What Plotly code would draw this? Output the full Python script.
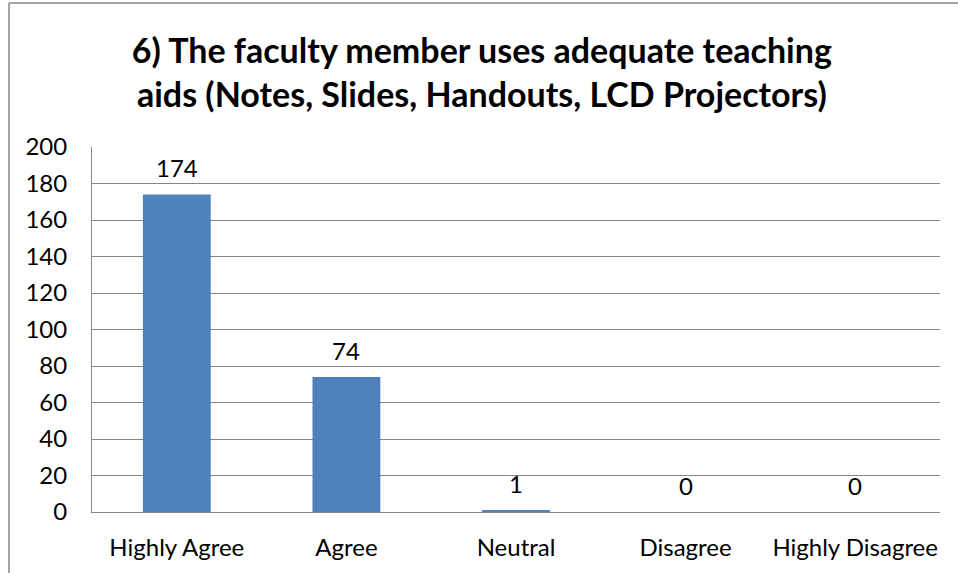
import plotly.graph_objects as go

categories = ["Highly Agree", "Agree", "Neutral", "Disagree", "Highly Disagree"]
values = [174, 74, 1, 0, 0]
y_ticks = [0, 20, 40, 60, 80, 100, 120, 140, 160, 180, 200]
title_text = "6) The faculty member uses adequate teaching<br>aids (Notes, Slides, Handouts, LCD Projectors)"

FONT = "Lato, Carlito, Calibri, sans-serif"

fig = go.Figure(
    go.Bar(
        x=categories,
        y=values,
        marker=dict(color="#4F81BD", line=dict(color="#4F81BD", width=0)),
        width=0.4,
        hoverinfo="x+y",
    )
)

annotations = [
    dict(x=c, y=v, xref="x", yref="y", text=str(v), showarrow=False,
         yanchor="bottom", yshift=10,
         font=dict(family=FONT, size=24, color="black"))
    for c, v in zip(categories, values)
]

fig.update_layout(
    width=958,
    height=573,
    margin=dict(l=92, r=18, t=147, b=61),
    paper_bgcolor="white",
    plot_bgcolor="white",
    showlegend=False,
    font=dict(family=FONT, color="black"),
    annotations=annotations,
    title=dict(
        text="<b>" + title_text + "</b>",
        font=dict(family=FONT, size=34, color="black"),
        x=0.503,
        xanchor="center",
        xref="container",
        y=1 - 63 / 573,
        yanchor="top",
        yref="container",
    ),
    xaxis=dict(
        showgrid=False,
        showline=True,
        linecolor="#868686",
        linewidth=1,
        tickfont=dict(family=FONT, size=24, color="black"),
        ticks="",
        ticklabelstandoff=14,
    ),
    yaxis=dict(
        range=[0, 200],
        tickvals=y_ticks,
        showgrid=True,
        gridcolor="#868686",
        gridwidth=1,
        showline=True,
        linecolor="#868686",
        linewidth=1,
        zeroline=False,
        tickfont=dict(family=FONT, size=24, color="black"),
        ticks="",
        ticklabelstandoff=19,
        mirror=False,
    ),
    shapes=[
        dict(type="line", xref="paper", yref="paper",
             x0=(9 - 92) / 848, x1=(958 - 92) / 848,
             y0=(512 - 3) / 365, y1=(512 - 3) / 365,
             line=dict(color="#868686", width=1.5)),
        dict(type="line", xref="paper", yref="paper",
             x0=(9 - 92) / 848, x1=(9 - 92) / 848,
             y0=(512 - 3) / 365, y1=(512 - 575) / 365,
             line=dict(color="#868686", width=1.5)),
    ],
)

fig.write_html(
    "out.html",
    config={"displayModeBar": False},
    post_script="document.body.style.margin='0';document.body.style.padding='0';document.body.style.overflow='hidden';",
)
